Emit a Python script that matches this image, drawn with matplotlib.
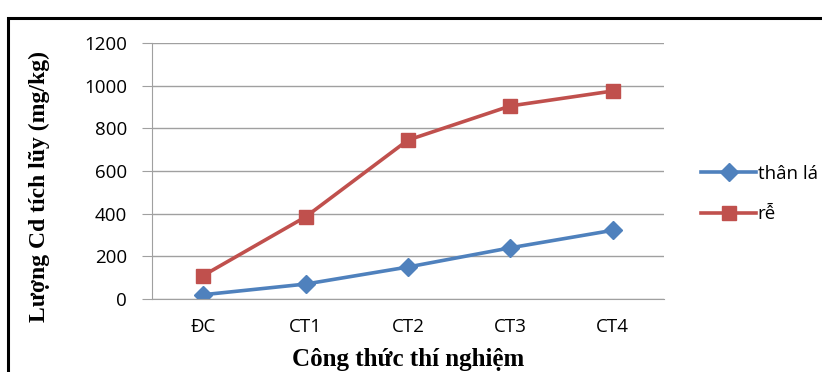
import matplotlib
matplotlib.use('Agg')
import matplotlib.pyplot as plt
from matplotlib.patches import Rectangle

# treatments
categories = ['ĐC', 'CT1', 'CT2', 'CT3', 'CT4']
# accumulated Cd (mg/kg)
than_la = [20, 70, 150, 240, 322]
re = [110, 385, 745, 905, 975]
yticks = [0, 200, 400, 600, 800, 1000, 1200]

fig = plt.figure(figsize=(8.22, 3.72), dpi=100)
# outer chart frame
fig.patches.append(Rectangle((8 / 822, -0.05), 1.1, 1 - 18 / 372 + 0.05,
                             transform=fig.transFigure, fill=False,
                             edgecolor='black', linewidth=2.2))

ax = fig.add_axes([152 / 822, 1 - 299 / 372, (664 - 152) / 822, (299 - 43) / 372])
x = list(range(len(categories)))
ax.plot(x, than_la, color='#4F81BD', linewidth=2.6, marker='D', markersize=9,
        label='thân lá')
ax.plot(x, re, color='#C0504D', linewidth=2.6, marker='s', markersize=10.5,
        label='rễ')

ax.set_xlim(-0.5, 4.5)
ax.set_ylim(0, 1200)
ax.set_yticks(yticks)
ax.set_xticks(x)
ax.set_xticklabels(categories)
ax.grid(axis='y', color='#A0A0A0', linewidth=1)
ax.set_axisbelow(True)
for s in ['top', 'right']:
    ax.spines[s].set_visible(False)
ax.spines['left'].set_color('#A0A0A0')
ax.spines['bottom'].set_color('#A0A0A0')
ax.tick_params(axis='y', length=7, color='#A0A0A0', labelsize=13.5, pad=11)
ax.tick_params(axis='x', length=0, labelsize=13.5, pad=14)
for lbl in ax.get_xticklabels() + ax.get_yticklabels():
    lbl.set_fontfamily('Open Sans')

ax.set_ylabel('Lượng Cd tích lũy (mg/kg)', fontfamily='Liberation Serif',
              fontweight='bold', fontsize=17)
ax.yaxis.set_label_coords(-0.2, 0.44)
ax.set_xlabel('Công thức thí nghiệm', fontfamily='Liberation Serif',
              fontweight='bold', fontsize=18)
ax.xaxis.set_label_coords(0.5, -0.19)

ax.legend(loc='center left', bbox_to_anchor=(1.04, 0.41), frameon=False,
          prop={'family': 'Open Sans', 'size': 13.5}, handlelength=2.9,
          handletextpad=0.1, labelspacing=1.2)

fig.savefig('out.png', dpi=100)
